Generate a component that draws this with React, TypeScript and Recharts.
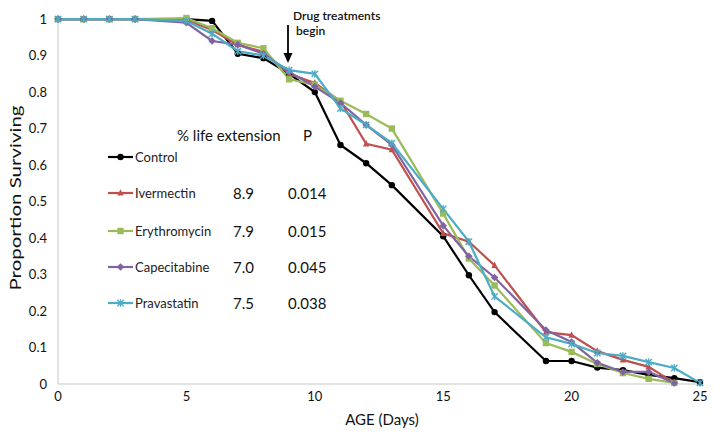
import React from 'react'
import { LineChart, Line, XAxis, YAxis, Customized } from 'recharts'

const days = [0, 1, 2, 3, 5, 6, 7, 8, 9, 10, 11, 12, 13, 15, 16, 17, 19, 20, 21, 22, 23, 24, 25]

const control = [1, 1, 1, 1, 1.0, 0.995, 0.905, 0.893, 0.85, 0.8, 0.655, 0.605, 0.545, 0.405, 0.298, 0.197, 0.063, 0.063, 0.045, 0.038, 0.025, 0.016, 0.005]
const ivermectin = [1, 1, 1, 1, 0.998, 0.97, 0.93, 0.91, 0.85, 0.825, 0.775, 0.658, 0.642, 0.413, 0.39, 0.325, 0.142, 0.134, 0.09, 0.066, 0.047, 0.003, null]
const erythromycin = [1, 1, 1, 1, 1.003, 0.975, 0.935, 0.92, 0.835, 0.82, 0.776, 0.74, 0.7, 0.467, 0.344, 0.27, 0.112, 0.088, 0.055, 0.03, 0.014, 0.003, null]
const capecitabine = [1, 1, 1, 1, 0.99, 0.94, 0.93, 0.905, 0.855, 0.815, 0.77, 0.71, 0.655, 0.434, 0.35, 0.292, 0.148, 0.115, 0.058, 0.033, 0.033, 0.003, null]
const pravastatin = [1, 1, 1, 1, 0.995, 0.96, 0.912, 0.9, 0.86, 0.85, 0.755, 0.71, 0.66, 0.48, 0.39, 0.24, 0.128, 0.11, 0.085, 0.077, 0.06, 0.044, 0.003]

const lifeExtension = ['', '8.9', '7.9', '7.0', '7.5']
const pValues = ['', '0.014', '0.015', '0.045', '0.038']

const xTicks = [0, 5, 10, 15, 20, 25]
const yTicks = [0, 0.1, 0.2, 0.3, 0.4, 0.5, 0.6, 0.7, 0.8, 0.9, 1]

const series = [
  { key: 'control', name: 'Control', values: control, color: '#000000', shape: 'circle' },
  { key: 'ivermectin', name: 'Ivermectin', values: ivermectin, color: '#C0504D', shape: 'triangle' },
  { key: 'erythromycin', name: 'Erythromycin', values: erythromycin, color: '#9BBB59', shape: 'square' },
  { key: 'capecitabine', name: 'Capecitabine', values: capecitabine, color: '#8064A2', shape: 'diamond' },
  { key: 'pravastatin', name: 'Pravastatin', values: pravastatin, color: '#4BACC6', shape: 'star' },
]

const data = days.map((d, i) => {
  const row: Record<string, number | null> = { day: d }
  series.forEach((s) => { row[s.key] = s.values[i] })
  return row
})

const FONT = 'Lato, "Open Sans", sans-serif'

function Marker({ cx, cy, shape, color }: { cx: number; cy: number; shape: string; color: string }) {
  const r = 3.2
  if (shape === 'circle') return <circle cx={cx} cy={cy} r={r} fill={color} />
  if (shape === 'square') return <rect x={cx - r} y={cy - r} width={r * 2} height={r * 2} fill={color} />
  if (shape === 'triangle')
    return <polygon points={`${cx},${cy - r - 0.6} ${cx - r},${cy + r - 0.6} ${cx + r},${cy + r - 0.6}`} fill={color} />
  if (shape === 'diamond')
    return <polygon points={`${cx},${cy - r - 0.6} ${cx + r + 0.6},${cy} ${cx},${cy + r + 0.6} ${cx - r - 0.6},${cy}`} fill={color} />
  return (
    <g stroke={color} strokeWidth={1.4}>
      <line x1={cx - r} y1={cy - r} x2={cx + r} y2={cy + r} />
      <line x1={cx - r} y1={cy + r} x2={cx + r} y2={cy - r} />
      <line x1={cx} y1={cy - r - 0.5} x2={cx} y2={cy + r + 0.5} />
    </g>
  )
}

const makeDot = (shape: string, color: string) => (props: any) => {
  const { cx, cy, index, value } = props
  if (value == null || cx == null || cy == null) return <g key={`e${index}`} />
  return <Marker key={`m${index}`} cx={cx} cy={cy} shape={shape} color={color} />
}

function Overlay() {
  const rows = [157, 193, 231, 267, 303]
  return (
    <g fontFamily={FONT}>
      <text
        x={15}
        y={198}
        transform="rotate(-90 15 198)"
        textAnchor="middle"
        dominantBaseline="central"
        fontSize={15}
        textLength={185}
        lengthAdjust="spacingAndGlyphs"
        fill="#111"
      >
        Proportion Surviving
      </text>
      <text x={382} y={419} textAnchor="middle" dominantBaseline="central" fontSize={15} fill="#111">
        AGE (Days)
      </text>

      <text x={293} y={15} dominantBaseline="central" fontSize={12} fontWeight={600} fill="#111">Drug treatments</text>
      <text x={296} y={30} dominantBaseline="central" fontSize={12} fontWeight={600} fill="#111">begin</text>
      <line x1={288} y1={25} x2={288} y2={55} stroke="#000" strokeWidth={1.8} />
      <polygon points="283.5,53 292.5,53 288,63" fill="#000" />

      <text x={177} y={135} dominantBaseline="central" fontSize={15} fill="#111">% life extension</text>
      <text x={303} y={135} dominantBaseline="central" fontSize={15} fill="#111">P</text>
      {series.map((s, i) => (
        <g key={s.key}>
          <line x1={108} y1={rows[i]} x2={133} y2={rows[i]} stroke={s.color} strokeWidth={2.2} />
          <Marker cx={120.5} cy={rows[i]} shape={s.shape} color={s.color} />
          <text x={135} y={rows[i]} dominantBaseline="central" fontSize={13} fill="#222">{s.name}</text>
          <text x={233} y={rows[i]} dominantBaseline="central" fontSize={15} fill="#111">{lifeExtension[i]}</text>
          <text x={288} y={rows[i]} dominantBaseline="central" fontSize={15} fill="#111">{pValues[i]}</text>
        </g>
      ))}
    </g>
  )
}

export default function App() {
  if (typeof document !== 'undefined') document.body.style.margin = '0'
  return (
    <div style={{ width: 715, height: 436, background: '#fff' }}>
      <LineChart width={715} height={436} data={data} margin={{ top: 18, right: 15, bottom: 22, left: 0 }}>
        <XAxis
          dataKey="day"
          type="number"
          domain={[0, 25]}
          ticks={xTicks}
          tickLine={false}
          axisLine={{ stroke: '#D9D9D9', strokeWidth: 1.5 }}
          height={30}
          tickMargin={2}
          tick={{ fontSize: 13, fill: '#111', fontFamily: FONT }}
        />
        <YAxis
          type="number"
          domain={[0, 1]}
          ticks={yTicks}
          width={58}
          tickLine={false}
          axisLine={{ stroke: '#D9D9D9', strokeWidth: 1.5 }}
          tickMargin={5}
          tickFormatter={(v: number) => String(Math.round(v * 10) / 10)}
          tick={{ fontSize: 13, fill: '#111', fontFamily: FONT }}
        />
        {series.map((s) => (
          <Line
            key={s.key}
            dataKey={s.key}
            name={s.name}
            stroke={s.color}
            strokeWidth={2.2}
            dot={makeDot(s.shape, s.color)}
            activeDot={false}
            isAnimationActive={false}
            type="linear"
          />
        ))}
        <Customized component={Overlay} />
      </LineChart>
    </div>
  )
}
